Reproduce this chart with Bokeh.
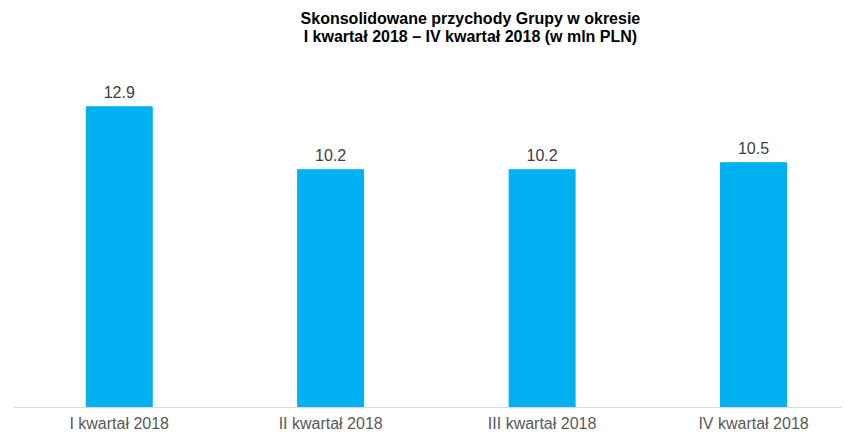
from bokeh.plotting import figure
from bokeh.models import Range1d, FixedTicker, Label, LabelSet, ColumnDataSource
from bokeh.core.properties import value
from bokeh.embed import file_html
from bokeh.resources import INLINE

categories = ["I kwartał 2018", "II kwartał 2018", "III kwartał 2018", "IV kwartał 2018"]
revenue = [12.9, 10.2, 10.2, 10.5]
value_labels = ["12.9", "10.2", "10.2", "10.5"]
title_lines = ["Skonsolidowane przychody Grupy w okresie",
               "I kwartał 2018 – IV kwartał 2018 (w mln PLN)"]

xs = list(range(len(categories)))
src = ColumnDataSource(dict(x=xs, top=revenue, lab=value_labels))

p = figure(width=846, height=435, output_backend="svg", toolbar_location=None,
           x_range=Range1d(-0.5, 3.416), y_range=Range1d(0, 17.46),
           min_border_left=13, min_border_right=5, min_border_top=0, min_border_bottom=28)
p.outline_line_color = None
p.background_fill_color = "white"
p.border_fill_color = "white"
p.grid.visible = False
p.yaxis.visible = False

p.vbar(x="x", top="top", bottom=0, width=0.312, color="#00B0F0", source=src)
p.add_layout(LabelSet(x="x", y="top", text="lab", source=src, text_align="center",
                      text_baseline="alphabetic", y_offset=9, text_font=value("Liberation Sans"),
                      text_font_size=value("16px"), text_color=value("#404040")))

ax = p.xaxis[0]
ax.ticker = FixedTicker(ticks=xs)
ax.major_label_overrides = {i: c for i, c in zip(xs, categories)}
ax.major_tick_line_color = None
ax.minor_tick_line_color = None
ax.major_tick_out = 0
ax.major_tick_in = 0
ax.axis_line_color = "#d9d9d9"
ax.axis_line_width = 1
ax.major_label_standoff = 7
ax.major_label_text_font = "Liberation Sans"
ax.major_label_text_font_size = "16px"
ax.major_label_text_color = "#595959"

for line, yv in zip(title_lines, [16.70, 15.92]):
    p.add_layout(Label(x=1.661, y=yv, text=line, text_align="center", text_baseline="middle",
                       text_font="Liberation Sans", text_font_size="16px", text_font_style="bold",
                       text_color="#000000"))

open("out.html", "w").write(file_html(p, INLINE))
